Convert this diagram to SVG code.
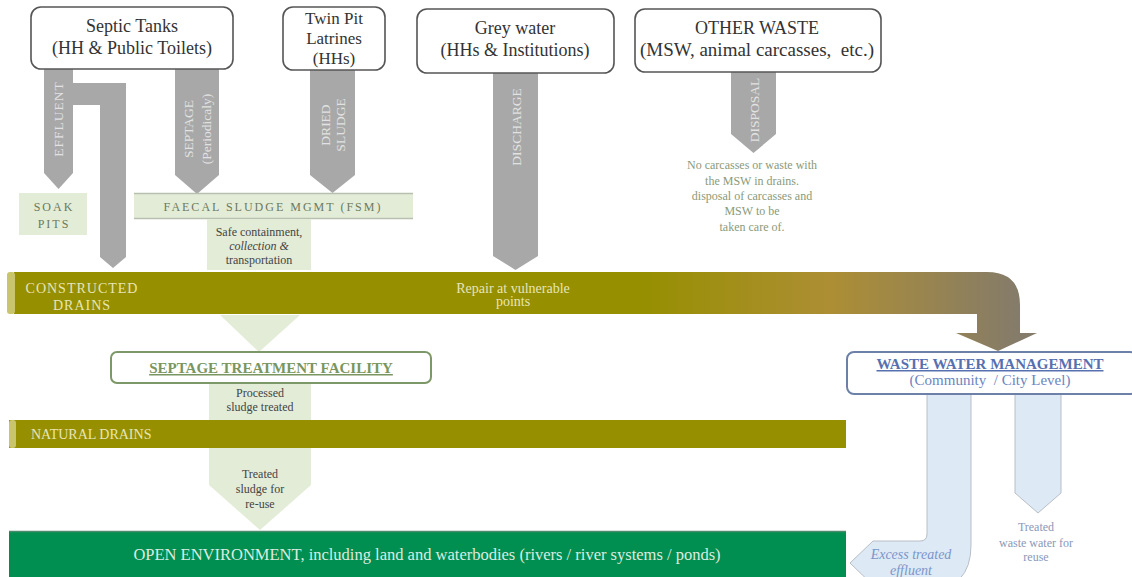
<svg xmlns="http://www.w3.org/2000/svg" width="1132" height="577" viewBox="0 0 1132 577">
<defs>
<linearGradient id="gDrain" gradientUnits="userSpaceOnUse" x1="640" y1="0" x2="1020" y2="0">
<stop offset="0" stop-color="#968f00"/>
<stop offset="0.5" stop-color="#ad8e34"/>
<stop offset="1" stop-color="#847b6a"/>
</linearGradient>
<style>
.src{fill:#fff;stroke:#555;stroke-width:1.6}
.ga{fill:#a8a8a8}
.gt{font-family:"Liberation Serif",serif;font-size:13.5px;fill:#e2e2e2;text-anchor:middle}
.lg{fill:#e3ecd7}
.lgt{font-family:"Liberation Serif",serif;font-size:12px;letter-spacing:2px;fill:#6b7a5c;text-anchor:middle}
.dk{font-family:"Liberation Serif",serif;font-size:12px;fill:#444;text-anchor:middle}
.ol{fill:#968f00}
.cap{fill:#c9c56c}
.olt{font-family:"Liberation Serif",serif;font-size:14px;fill:#e8e5b8}
.bl{fill:#dde9f5;stroke:#b9bec6;stroke-width:1}
.blt{font-family:"Liberation Serif",serif;font-size:14px;fill:#7b95cb;text-anchor:middle}
.faint{font-family:"Liberation Serif",serif;font-size:12px;text-anchor:middle}
</style>
</defs>
<rect width="1132" height="577" fill="#fff"/>

<g id="connectors">
  <polygon class="ga" points="44,69 73,69 73,173 58.5,189 44,173"/>
  <polygon class="ga" points="73,83 126,83 126,257 113,268 100,257 100,105 73,105"/>
  <text class="gt" transform="translate(63,119) rotate(-90)" letter-spacing="1">EFFLUENT</text>
  <polygon class="ga" points="175,69 219,69 219,175 197,194 175,175"/>
  <text class="gt" transform="translate(193,129) rotate(-90)">SEPTAGE</text>
  <text class="gt" transform="translate(211,129) rotate(-90)">(Periodicaly)</text>
  <polygon class="ga" points="310,70 355,70 355,175 332.5,193 310,175"/>
  <text class="gt" transform="translate(330,125) rotate(-90)">DRIED</text>
  <text class="gt" transform="translate(345,125) rotate(-90)">SLUDGE</text>
  <polygon class="ga" points="493,73 538,73 538,256 515.5,270 493,256"/>
  <text class="gt" transform="translate(521,127) rotate(-90)" font-size="14">DISCHARGE</text>
  <polygon class="ga" points="731,72 776,72 776,134 753.5,153 731,134"/>
  <text class="gt" transform="translate(759,110) rotate(-90)" font-size="12.3">DISPOSAL</text>
  <g class="faint" fill="#8a9a7a">
    <text x="752" y="169">No carcasses or waste with</text>
    <text x="752" y="185">the MSW in drains.</text>
    <text x="752" y="200">disposal of carcasses and</text>
    <text x="752" y="215">MSW to be</text>
    <text x="752" y="231">taken care of.</text>
  </g>
  <polygon class="lg" points="220,315 300,315 259,352"/>
  <path class="bl" d="M927,394 L971,394 L971,545 Q971,590 926,590 L878,590 L850,563 L873,541 L920,541 Q927,541 927,534 Z"/>
  <text class="blt" x="911" y="559" font-style="italic">Excess treated</text>
  <text class="blt" x="911" y="575" font-style="italic">effluent</text>
  <polygon class="bl" points="1015,394 1061,394 1061,493 1038,513 1015,493"/>
  <g class="faint" fill="#8a98b8" font-size="10">
    <text x="1036" y="531">Treated</text>
    <text x="1036" y="547">waste water for</text>
    <text x="1036" y="561">reuse</text>
  </g>
</g>

<g id="septic-tanks">
  <rect class="src" x="31" y="7" width="202" height="62" rx="10"/>
  <g font-family="Liberation Serif, serif" font-size="18" fill="#333" text-anchor="middle">
    <text x="132" y="32">Septic Tanks</text>
    <text x="132" y="54">(HH &amp; Public Toilets)</text>
  </g>
</g>
<g id="twin-pit">
  <rect class="src" x="283" y="7" width="102" height="63" rx="10"/>
  <g font-family="Liberation Serif, serif" font-size="17" fill="#333" text-anchor="middle">
    <text x="334" y="24">Twin Pit</text>
    <text x="334" y="44">Latrines</text>
    <text x="334" y="64">(HHs)</text>
  </g>
</g>
<g id="grey-water">
  <rect class="src" x="417" y="9" width="197" height="64" rx="10"/>
  <g font-family="Liberation Serif, serif" font-size="18" fill="#333" text-anchor="middle">
    <text x="515" y="34">Grey water</text>
    <text x="515" y="56">(HHs &amp; Institutions)</text>
  </g>
</g>
<g id="other-waste">
  <rect class="src" x="635" y="9" width="246" height="63" rx="10"/>
  <g font-family="Liberation Serif, serif" font-size="18" fill="#333" text-anchor="middle">
    <text x="757" y="34">OTHER WASTE</text>
    <text x="757" y="56" xml:space="preserve" font-size="19">(MSW, animal carcasses,  etc.)</text>
  </g>
</g>

<g id="soak-pits">
  <rect class="lg" x="19" y="193" width="68" height="42"/>
  <text class="lgt" x="54" y="211">SOAK</text>
  <text class="lgt" x="54" y="228">PITS</text>
</g>
<g id="fsm">
  <rect class="lg" x="134" y="193" width="279" height="26"/>
  <line x1="134" y1="193.5" x2="413" y2="193.5" stroke="#b8c0b0" stroke-width="1.5"/>
  <line x1="134" y1="218.5" x2="413" y2="218.5" stroke="#b8c0b0" stroke-width="1.5"/>
  <text class="lgt" x="273" y="211">FAECAL SLUDGE MGMT (FSM)</text>
  <rect class="lg" x="207" y="219" width="104" height="51"/>
  <text class="dk" x="259" y="236">Safe containment,</text>
  <text class="dk" x="259" y="250" font-style="italic">collection &amp;</text>
  <text class="dk" x="259" y="264">transportation</text>
</g>

<g id="constructed-drains">
  <path d="M14,272 L987,272 Q1020,272 1020,305 L1020,333 L1037,333 L998,351 L956,333 L977,333 L977,314 L14,314 Z" fill="url(#gDrain)"/>
  <rect class="cap" x="7" y="272" width="8" height="42" rx="3"/>
  <text class="olt" x="82" y="293" text-anchor="middle" letter-spacing="1">CONSTRUCTED</text>
  <text class="olt" x="82" y="310" text-anchor="middle" letter-spacing="1">DRAINS</text>
  <text class="olt" x="513" y="293" text-anchor="middle" font-size="12.5">Repair at vulnerable</text>
  <text class="olt" x="513" y="306" text-anchor="middle" font-size="12.5">points</text>
</g>

<g id="septage-treatment">
  <rect x="111" y="352" width="320" height="31" rx="6" fill="#fff" stroke="#7c9868" stroke-width="2"/>
  <text x="271" y="373" font-family="Liberation Serif, serif" font-size="15" font-weight="bold" fill="#7a9660" text-anchor="middle" text-decoration="underline">SEPTAGE TREATMENT FACILITY</text>
  <rect class="lg" x="209" y="384" width="102" height="36"/>
  <text class="dk" x="260" y="397" font-size="12.5">Processed</text>
  <text class="dk" x="260" y="411" font-size="12.5">sludge treated</text>
</g>

<g id="natural-drains">
  <rect class="ol" x="9" y="420" width="837" height="28"/>
  <rect class="cap" x="9" y="420" width="7" height="28" rx="3"/>
  <text class="olt" x="31" y="439" font-size="15">NATURAL DRAINS</text>
  <polygon class="lg" points="209,448 311,448 311,485 260,530 209,485"/>
  <text class="dk" x="260" y="478" font-size="12.5">Treated</text>
  <text class="dk" x="260" y="493" font-size="12.5">sludge for</text>
  <text class="dk" x="260" y="508" font-size="12.5">re-use</text>
</g>

<g id="open-environment">
  <rect x="9" y="531" width="837" height="46" fill="#008f50"/>
  <line x1="9" y1="531.5" x2="846" y2="531.5" stroke="#4d8a6c" stroke-width="1.5"/>
  <text x="427" y="560" font-family="Liberation Serif, serif" font-size="16.5" fill="#dcebe0" text-anchor="middle">OPEN ENVIRONMENT, including land and waterbodies (rivers / river systems / ponds)</text>
</g>

<g id="waste-water-management">
  <rect x="847" y="352" width="290" height="42" rx="7" fill="#fff" stroke="#6c80a8" stroke-width="2"/>
  <text x="990" y="369" font-family="Liberation Serif, serif" font-size="15" font-weight="bold" fill="#5670b0" text-anchor="middle" text-decoration="underline">WASTE WATER MANAGEMENT</text>
  <text x="990" y="385" font-family="Liberation Serif, serif" font-size="15" fill="#6c84c0" text-anchor="middle" xml:space="preserve">(Community  / City Level)</text>
</g>
</svg>
